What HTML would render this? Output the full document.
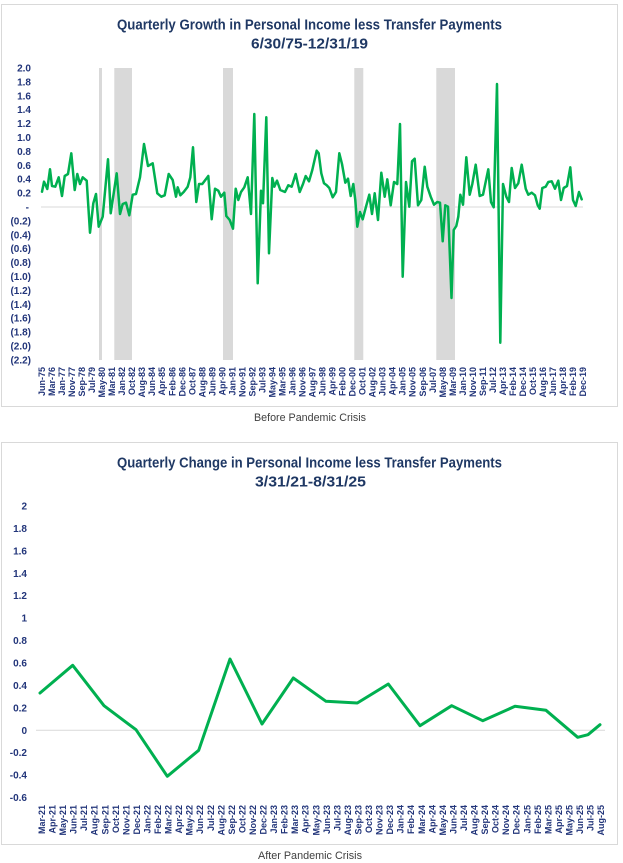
<!DOCTYPE html>
<html>
<head>
<meta charset="utf-8">
<style>
  html,body{margin:0;padding:0;background:#fff;}
  svg{display:block;}
  .t{font-family:"Liberation Sans",sans-serif;font-weight:bold;fill:#1F3864;}
  .yl{font-family:"Liberation Sans",sans-serif;font-weight:bold;font-size:10px;fill:#22357a;}
  .xl{font-family:"Liberation Sans",sans-serif;font-weight:bold;font-size:9px;fill:#22357a;}
  .cap{font-family:"Liberation Sans",sans-serif;font-size:11px;fill:#404040;}
</style>
</head>
<body>
<svg width="623" height="863" viewBox="0 0 623 863" xmlns="http://www.w3.org/2000/svg">
  <rect x="0" y="0" width="623" height="863" fill="#fff"/>

  <!-- ===== TOP CHART ===== -->
  <rect x="1.5" y="4.5" width="616" height="402" fill="#fff" stroke="#D9D9D9" stroke-width="1"/>
  <text class="t" x="309.5" y="29.5" font-size="14.5" text-anchor="middle" textLength="385" lengthAdjust="spacingAndGlyphs">Quarterly Growth in Personal Income less Transfer Payments</text>
  <text class="t" x="309.5" y="48.5" font-size="14.5" text-anchor="middle" textLength="117" lengthAdjust="spacingAndGlyphs">6/30/75-12/31/19</text>

  <!-- recession bars -->
  <g fill="#D9D9D9">
    <rect x="99" y="68" width="3" height="292"/>
    <rect x="114.3" y="68" width="17.7" height="292"/>
    <rect x="223" y="68" width="10" height="292"/>
    <rect x="354.3" y="68" width="9" height="292"/>
    <rect x="436.3" y="68" width="18.7" height="292"/>
  </g>
  <!-- zero line -->
  <line x1="41" y1="207" x2="583" y2="207" stroke="#D9D9D9" stroke-width="1"/>

  <!-- y labels -->
  <g class="yl" text-anchor="end">
    <text x="31" y="71.5">2.0</text>
    <text x="31" y="85.4">1.8</text>
    <text x="31" y="99.3">1.6</text>
    <text x="31" y="113.2">1.4</text>
    <text x="31" y="127.1">1.2</text>
    <text x="31" y="141">1.0</text>
    <text x="31" y="154.9">0.8</text>
    <text x="31" y="168.8">0.6</text>
    <text x="31" y="182.7">0.4</text>
    <text x="31" y="196.6">0.2</text>
    <text x="29" y="210.5">-</text>
    <text x="31" y="224.4">(0.2)</text>
    <text x="31" y="238.3">(0.4)</text>
    <text x="31" y="252.2">(0.6)</text>
    <text x="31" y="266.1">(0.8)</text>
    <text x="31" y="280">(1.0)</text>
    <text x="31" y="293.9">(1.2)</text>
    <text x="31" y="307.8">(1.4)</text>
    <text x="31" y="321.7">(1.6)</text>
    <text x="31" y="335.6">(1.8)</text>
    <text x="31" y="349.5">(2.0)</text>
    <text x="31" y="363.4">(2.2)</text>
  </g>

  <!-- x labels top -->
  <g class="xl" text-anchor="end" dominant-baseline="central">
    <text transform="translate(42.0,367) rotate(-90)">Jun-75</text>
    <text transform="translate(52.0,367) rotate(-90)">Mar-76</text>
    <text transform="translate(62.0,367) rotate(-90)">Jan-77</text>
    <text transform="translate(72.1,367) rotate(-90)">Nov-77</text>
    <text transform="translate(82.1,367) rotate(-90)">Sep-78</text>
    <text transform="translate(92.1,367) rotate(-90)">Jul-79</text>
    <text transform="translate(102.1,367) rotate(-90)">May-80</text>
    <text transform="translate(112.1,367) rotate(-90)">Mar-81</text>
    <text transform="translate(122.2,367) rotate(-90)">Jan-82</text>
    <text transform="translate(132.2,367) rotate(-90)">Oct-82</text>
    <text transform="translate(142.2,367) rotate(-90)">Aug-83</text>
    <text transform="translate(152.2,367) rotate(-90)">Jun-84</text>
    <text transform="translate(162.2,367) rotate(-90)">Apr-85</text>
    <text transform="translate(172.3,367) rotate(-90)">Feb-86</text>
    <text transform="translate(182.3,367) rotate(-90)">Dec-86</text>
    <text transform="translate(192.3,367) rotate(-90)">Oct-87</text>
    <text transform="translate(202.3,367) rotate(-90)">Aug-88</text>
    <text transform="translate(212.3,367) rotate(-90)">Jun-89</text>
    <text transform="translate(222.4,367) rotate(-90)">Apr-90</text>
    <text transform="translate(232.4,367) rotate(-90)">Jan-91</text>
    <text transform="translate(242.4,367) rotate(-90)">Nov-91</text>
    <text transform="translate(252.4,367) rotate(-90)">Sep-92</text>
    <text transform="translate(262.4,367) rotate(-90)">Jul-93</text>
    <text transform="translate(272.5,367) rotate(-90)">May-94</text>
    <text transform="translate(282.5,367) rotate(-90)">Mar-95</text>
    <text transform="translate(292.5,367) rotate(-90)">Jan-96</text>
    <text transform="translate(302.5,367) rotate(-90)">Nov-96</text>
    <text transform="translate(312.5,367) rotate(-90)">Aug-97</text>
    <text transform="translate(322.6,367) rotate(-90)">Jun-98</text>
    <text transform="translate(332.6,367) rotate(-90)">Apr-99</text>
    <text transform="translate(342.6,367) rotate(-90)">Feb-00</text>
    <text transform="translate(352.6,367) rotate(-90)">Dec-00</text>
    <text transform="translate(362.6,367) rotate(-90)">Oct-01</text>
    <text transform="translate(372.7,367) rotate(-90)">Aug-02</text>
    <text transform="translate(382.7,367) rotate(-90)">Jun-03</text>
    <text transform="translate(392.7,367) rotate(-90)">Apr-04</text>
    <text transform="translate(402.7,367) rotate(-90)">Jan-05</text>
    <text transform="translate(412.7,367) rotate(-90)">Nov-05</text>
    <text transform="translate(422.8,367) rotate(-90)">Sep-06</text>
    <text transform="translate(432.8,367) rotate(-90)">Jul-07</text>
    <text transform="translate(442.8,367) rotate(-90)">May-08</text>
    <text transform="translate(452.8,367) rotate(-90)">Mar-09</text>
    <text transform="translate(462.8,367) rotate(-90)">Jan-10</text>
    <text transform="translate(472.9,367) rotate(-90)">Nov-10</text>
    <text transform="translate(482.9,367) rotate(-90)">Sep-11</text>
    <text transform="translate(492.9,367) rotate(-90)">Jul-12</text>
    <text transform="translate(502.9,367) rotate(-90)">Apr-13</text>
    <text transform="translate(512.9,367) rotate(-90)">Feb-14</text>
    <text transform="translate(523.0,367) rotate(-90)">Dec-14</text>
    <text transform="translate(533.0,367) rotate(-90)">Oct-15</text>
    <text transform="translate(543.0,367) rotate(-90)">Aug-16</text>
    <text transform="translate(553.0,367) rotate(-90)">Jun-17</text>
    <text transform="translate(563.0,367) rotate(-90)">Apr-18</text>
    <text transform="translate(573.1,367) rotate(-90)">Feb-19</text>
    <text transform="translate(583.1,367) rotate(-90)">Dec-19</text>
  </g>

  <!-- series top -->
  <polyline fill="none" stroke="#00B050" stroke-width="2.5" stroke-linejoin="round" stroke-linecap="round"
    points="42,191.7 44,181.7 46,186 47.3,189 50,169.3 52,186 55.3,186.7 58.7,177.3 62,196 64.7,176 68,174 71.3,153.3 74.7,190 77.3,174 80,184 82.7,177.3 86.7,180.7 90,232.7 93.3,203.3 96,194 98.7,226.7 102.7,216.7 108,159.3 110.7,213.3 116.7,173.3 120,214 122.7,204 126,202.7 129.3,215.3 132.7,194.7 136,194 140,177.3 144,144 148,166 152.7,163.3 157.3,193.3 161.3,196.7 164.7,195.3 168.7,174 172.7,180 176,196.7 177.7,187.3 180.3,195.3 183.7,192 187.7,186.7 190.3,177.3 193,147.3 196.3,202 199,184 202.3,184 208.3,176 211.7,219.3 215,188.7 218.3,190.7 221,196.7 224.3,192.7 226.3,216 229.7,220 233,228.7 235.7,188.7 238.3,200 241,192 244.3,187.3 247.7,177.3 251,214 254.3,114 257.7,283.3 261,190.7 263,203.3 266.3,117.3 269,253.3 272.3,178 274.3,186.7 277,180.7 280.3,190 285,192 288.3,185.3 291.7,186.7 295.7,174 299.7,192 303,184 305.7,176 309,181.3 312.3,170 316.7,150.7 318.7,153.3 321.3,173.3 324,183.3 326.7,185.3 329.3,188 332.7,197.3 336,192 339.3,153.3 342,164 345.3,182.7 348,178.7 350.7,196 353.3,184 355.3,200 357.3,226.7 360,212 362.7,219.3 366,206.7 369.3,194.7 372,214 374.7,193.3 378,220 381.3,172.7 384.7,196.7 387.3,179.3 390.7,205.3 394,182 397.3,184 400,124 402.7,276.7 406,182 409.3,206.7 412,161.3 414.7,158.7 418,205.3 421.3,200 424.7,166.7 427.3,186.7 430.7,196.7 434,204.7 437.3,202 440,202.7 442.7,241.3 445.3,205.3 448,206.7 451.5,298 453.7,230 456.3,226 458.3,216.7 460.3,194.7 463,204.7 466.3,157.3 469.7,194.7 472.3,184 475.7,164.7 479.7,196 483,194.7 488.3,169.3 491,202 493.7,207.3 497,84 500.3,342.7 503,184 506.3,196.7 509,202 511.7,168 515,188 518.3,183.3 521.7,164.7 525.7,188.7 528.3,194.7 531.7,192.7 535,195.3 537.7,205.3 539.7,208.7 542.3,188 545.7,186.7 548.3,182 551.7,181.3 555,188.7 558.3,180.7 561,200 563.7,188 567,186 570.3,167.3 573,200 575.7,206 579,192 581.7,199.3"/>

  <text class="cap" x="310" y="421" text-anchor="middle" textLength="112" lengthAdjust="spacingAndGlyphs">Before Pandemic Crisis</text>

  <!-- ===== BOTTOM CHART ===== -->
  <rect x="1.5" y="442.5" width="616" height="402" fill="#fff" stroke="#D9D9D9" stroke-width="1"/>
  <text class="t" x="309.5" y="467.7" font-size="14.5" text-anchor="middle" textLength="385" lengthAdjust="spacingAndGlyphs">Quarterly Change in Personal Income less Transfer Payments</text>
  <text class="t" x="310.5" y="486.7" font-size="14.5" text-anchor="middle" textLength="111" lengthAdjust="spacingAndGlyphs">3/31/21-8/31/25</text>

  <line x1="36" y1="730.3" x2="605" y2="730.3" stroke="#D9D9D9" stroke-width="1"/>

  <g class="yl" text-anchor="end">
    <text x="27" y="509.5">2</text>
    <text x="27" y="531.9">1.8</text>
    <text x="27" y="554.4">1.6</text>
    <text x="27" y="576.8">1.4</text>
    <text x="27" y="599.2">1.2</text>
    <text x="27" y="621.7">1</text>
    <text x="27" y="644.1">0.8</text>
    <text x="27" y="666.5">0.6</text>
    <text x="27" y="689">0.4</text>
    <text x="27" y="711.4">0.2</text>
    <text x="27" y="733.8">0</text>
    <text x="27" y="756.2">-0.2</text>
    <text x="27" y="778.7">-0.4</text>
    <text x="27" y="801.1">-0.6</text>
  </g>

  <g class="xl" text-anchor="end" dominant-baseline="central">
    <text transform="translate(42.0,805) rotate(-90)">Mar-21</text>
    <text transform="translate(52.5,805) rotate(-90)">Apr-21</text>
    <text transform="translate(63.1,805) rotate(-90)">May-21</text>
    <text transform="translate(73.6,805) rotate(-90)">Jun-21</text>
    <text transform="translate(84.2,805) rotate(-90)">Jul-21</text>
    <text transform="translate(94.7,805) rotate(-90)">Aug-21</text>
    <text transform="translate(105.3,805) rotate(-90)">Sep-21</text>
    <text transform="translate(115.8,805) rotate(-90)">Oct-21</text>
    <text transform="translate(126.4,805) rotate(-90)">Nov-21</text>
    <text transform="translate(136.9,805) rotate(-90)">Dec-21</text>
    <text transform="translate(147.5,805) rotate(-90)">Jan-22</text>
    <text transform="translate(158.0,805) rotate(-90)">Feb-22</text>
    <text transform="translate(168.6,805) rotate(-90)">Mar-22</text>
    <text transform="translate(179.1,805) rotate(-90)">Apr-22</text>
    <text transform="translate(189.7,805) rotate(-90)">May-22</text>
    <text transform="translate(200.2,805) rotate(-90)">Jun-22</text>
    <text transform="translate(210.8,805) rotate(-90)">Jul-22</text>
    <text transform="translate(221.3,805) rotate(-90)">Aug-22</text>
    <text transform="translate(231.9,805) rotate(-90)">Sep-22</text>
    <text transform="translate(242.4,805) rotate(-90)">Oct-22</text>
    <text transform="translate(253.0,805) rotate(-90)">Nov-22</text>
    <text transform="translate(263.5,805) rotate(-90)">Dec-22</text>
    <text transform="translate(274.1,805) rotate(-90)">Jan-23</text>
    <text transform="translate(284.6,805) rotate(-90)">Feb-23</text>
    <text transform="translate(295.2,805) rotate(-90)">Mar-23</text>
    <text transform="translate(305.7,805) rotate(-90)">Apr-23</text>
    <text transform="translate(316.3,805) rotate(-90)">May-23</text>
    <text transform="translate(326.8,805) rotate(-90)">Jun-23</text>
    <text transform="translate(337.4,805) rotate(-90)">Jul-23</text>
    <text transform="translate(347.9,805) rotate(-90)">Aug-23</text>
    <text transform="translate(358.5,805) rotate(-90)">Sep-23</text>
    <text transform="translate(369.0,805) rotate(-90)">Oct-23</text>
    <text transform="translate(379.6,805) rotate(-90)">Nov-23</text>
    <text transform="translate(390.1,805) rotate(-90)">Dec-23</text>
    <text transform="translate(400.7,805) rotate(-90)">Jan-24</text>
    <text transform="translate(411.2,805) rotate(-90)">Feb-24</text>
    <text transform="translate(421.8,805) rotate(-90)">Mar-24</text>
    <text transform="translate(432.3,805) rotate(-90)">Apr-24</text>
    <text transform="translate(442.9,805) rotate(-90)">May-24</text>
    <text transform="translate(453.4,805) rotate(-90)">Jun-24</text>
    <text transform="translate(464.0,805) rotate(-90)">Jul-24</text>
    <text transform="translate(474.5,805) rotate(-90)">Aug-24</text>
    <text transform="translate(485.1,805) rotate(-90)">Sep-24</text>
    <text transform="translate(495.6,805) rotate(-90)">Oct-24</text>
    <text transform="translate(506.2,805) rotate(-90)">Nov-24</text>
    <text transform="translate(516.7,805) rotate(-90)">Dec-24</text>
    <text transform="translate(527.3,805) rotate(-90)">Jan-25</text>
    <text transform="translate(537.8,805) rotate(-90)">Feb-25</text>
    <text transform="translate(548.4,805) rotate(-90)">Mar-25</text>
    <text transform="translate(558.9,805) rotate(-90)">Apr-25</text>
    <text transform="translate(569.5,805) rotate(-90)">May-25</text>
    <text transform="translate(580.0,805) rotate(-90)">Jun-25</text>
    <text transform="translate(590.6,805) rotate(-90)">Jul-25</text>
    <text transform="translate(601.1,805) rotate(-90)">Aug-25</text>
  </g>

  <polyline fill="none" stroke="#00B050" stroke-width="3" stroke-linejoin="round" stroke-linecap="round"
    points="40,693 72.7,665.3 104,705.7 136,729.7 167.3,776.3 198.7,750.3 230,659 262,724 293.3,678 326,701.3 357.3,703 388.3,684 420,725.7 451.7,705.7 482.7,720.7 515,706.3 546,710.3 577.7,737.3 588,734.7 600,724.7"/>

  <text class="cap" x="310" y="859" text-anchor="middle" textLength="104" lengthAdjust="spacingAndGlyphs">After Pandemic Crisis</text>
</svg>
</body>
</html>
